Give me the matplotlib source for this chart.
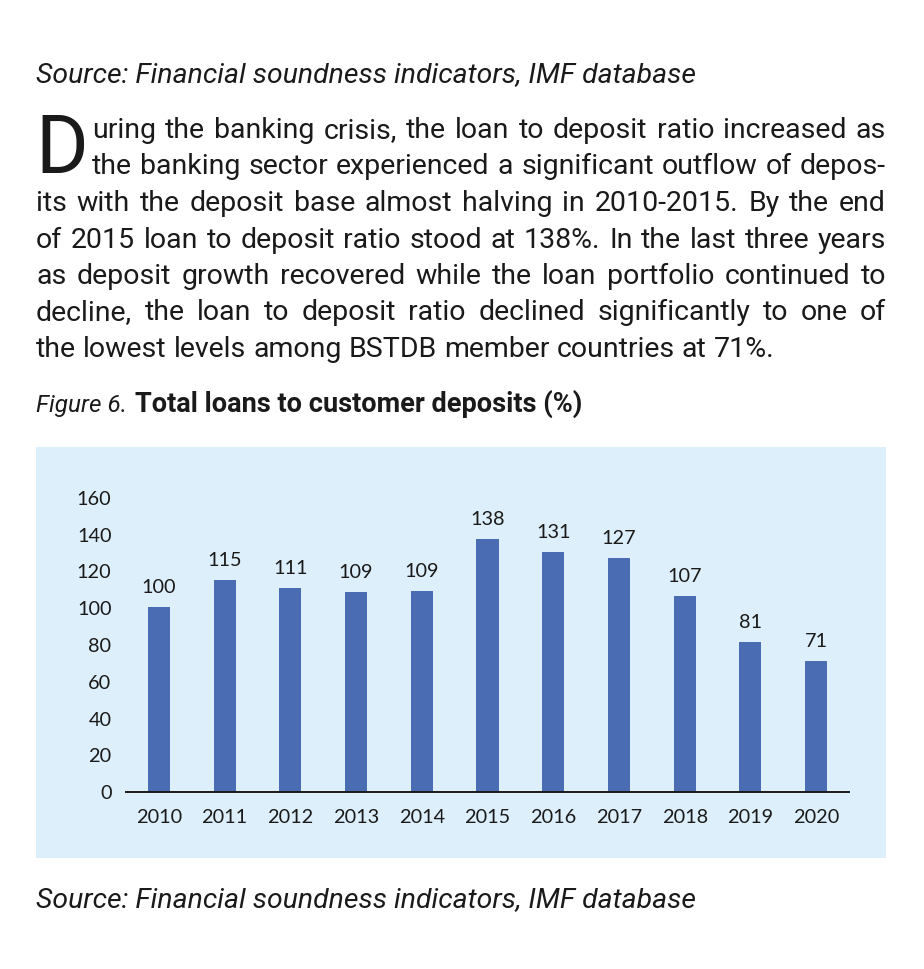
import matplotlib
matplotlib.use('Agg')
from matplotlib import pyplot as plt
from matplotlib.patches import Rectangle

W, H = 924, 969

years = ['2010', '2011', '2012', '2013', '2014', '2015',
         '2016', '2017', '2018', '2019', '2020']
ratio = [100.5, 115.2, 111.0, 108.6, 109.4, 137.6,
         130.6, 127.2, 106.8, 81.4, 71.2]
yticks = [0, 20, 40, 60, 80, 100, 120, 140, 160]

source = 'Source: Financial soundness indicators, IMF database'
fig_label = 'Figure 6.'
fig_title = 'Total loans to customer deposits (%)'
body_lines = [
    'uring the banking crisis, the loan to deposit ratio increased as',
    'the banking sector experienced a significant outflow of depos-',
    'its with the deposit base almost halving in 2010-2015. By the end',
    'of 2015 loan to deposit ratio stood at 138%. In the last three years',
    'as deposit growth recovered while the loan portfolio continued to',
    'decline, the loan to deposit ratio declined significantly to one of',
    'the lowest levels among BSTDB member countries at 71%.',
]

text_font = 'Roboto'
chart_font = 'Lato'
ink = '#1a1a1a'
bar_color = '#4a6cb3'
panel_color = '#ddeffb'

fig = plt.figure(figsize=(W / 100, H / 100), dpi=100)
renderer = fig.canvas.get_renderer()


def fx(x):
    return x / W


def fy(y):
    return 1 - y / H


def width_of(t):
    return t.get_window_extent(renderer=renderer).width


def fit_text(s, x0, x1, base, size, **kw):
    # scale the font so the string runs from x0 to x1
    t = fig.text(fx(x0), fy(base), s, fontsize=size, va='baseline',
                 color=ink, family=text_font, **kw)
    t.set_fontsize(size * (x1 - x0) / width_of(t))
    return t


def space_width(size):
    a = fig.text(0, 0, 'x x', fontsize=size, family=text_font)
    b = fig.text(0, 0, 'xx', fontsize=size, family=text_font)
    w = width_of(a) - width_of(b)
    a.remove()
    b.remove()
    return w


def put_line(words, x0, x1, base, size, justify=True):
    items = [fig.text(0, fy(base), w, fontsize=size, va='baseline',
                      color=ink, family=text_font) for w in words]
    widths = [width_of(t) for t in items]
    if justify and len(words) > 1:
        gap = (x1 - x0 - sum(widths)) / (len(words) - 1)
    else:
        gap = space_width(size)
    x = x0
    for t, w in zip(items, widths):
        t.set_x(fx(x))
        x += w + gap


# source line at the top
fit_text(source, 36, 695, 82, 20, style='italic')

# drop cap
cap = fig.text(fx(35), fy(173), 'D', fontsize=58, va='baseline',
               color=ink, family=text_font)
cap_right = 35 + width_of(cap)

# body text, justified
baselines = [138, 174.5, 211, 247.5, 284, 320.5, 357]
starts = [cap_right + 4, cap_right + 4, 36, 36, 36, 36, 36]

body_size = 19.0
need = 0
for line, x0 in zip(body_lines[:-1], starts[:-1]):
    t = fig.text(0, 0, line, fontsize=body_size, family=text_font)
    need = max(need, width_of(t) / ((886 - x0) * 0.99))
    t.remove()
body_size /= need

for i, line in enumerate(body_lines):
    put_line(line.split(' '), starts[i], 886, baselines[i], body_size,
             justify=(i < len(body_lines) - 1))

# figure caption
lab = fig.text(fx(36), fy(412), fig_label, fontsize=17.5, va='baseline',
               color=ink, family=text_font, style='italic')
fig.text(fx(36 + width_of(lab) + 8), fy(412), fig_title, fontsize=19.5,
         va='baseline', color=ink, family=text_font, weight='bold')

# light blue panel behind the chart
fig.patches.append(Rectangle((fx(36), fy(858)), fx(886) - fx(36),
                             (858 - 447) / H, transform=fig.transFigure,
                             facecolor=panel_color, edgecolor='none',
                             zorder=-5))

ax = fig.add_axes([fx(126), fy(792), fx(849) - fx(126), (792 - 498) / H])
ax.set_facecolor('none')
x = list(range(len(years)))
bars = ax.bar(x, ratio, width=0.335, color=bar_color, zorder=2)
for xi, v in zip(x, ratio):
    ax.annotate(f'{v:.0f}', (xi, v), xytext=(0, 8),
                textcoords='offset points', ha='center', va='bottom',
                fontsize=14.3, family=chart_font, color=ink)

ax.set_xlim(-0.5, len(years) - 0.5)
ax.set_ylim(0, 160)
ax.set_yticks(yticks)
ax.set_xticks(x)
ax.set_xticklabels(years)
for s in ['top', 'right', 'left']:
    ax.spines[s].set_visible(False)
ax.spines['bottom'].set_linewidth(1.4)
ax.spines['bottom'].set_color('#1a1a1a')
ax.tick_params(axis='both', length=0, labelsize=14.3, colors=ink)
ax.tick_params(axis='y', pad=10.5)
ax.tick_params(axis='x', pad=12)
for lbl in ax.get_xticklabels() + ax.get_yticklabels():
    lbl.set_family(chart_font)

# source line at the bottom
fit_text(source, 36, 695, 907, 20, style='italic')

fig.savefig('out.png', dpi=100, facecolor='white')
